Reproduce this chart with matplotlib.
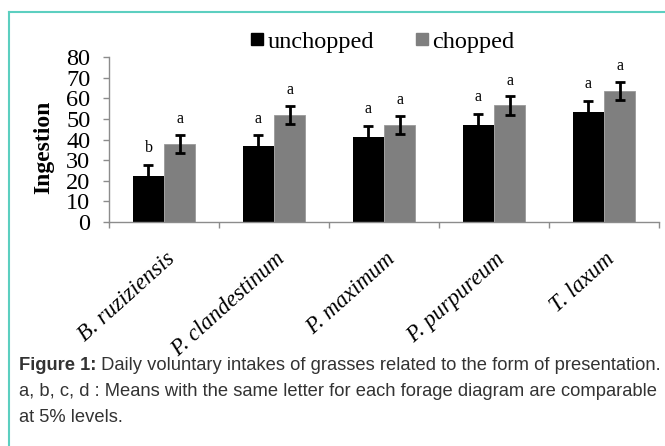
import numpy as np
import matplotlib
matplotlib.use("Agg")
import matplotlib.pyplot as plt
from matplotlib.lines import Line2D
from matplotlib.transforms import ScaledTranslation

# data
species = ["B. ruziziensis", "P. clandestinum", "P. maximum", "P. purpureum", "T. laxum"]
unchopped = [22.4, 36.7, 41.4, 47.1, 53.2]
chopped = [37.8, 51.9, 47.2, 56.5, 63.6]
unchopped_err = [5.3, 5.3, 5.2, 5.3, 5.5]
chopped_err = [4.5, 4.4, 4.4, 4.5, 4.5]
letters_unchopped = ["b", "a", "a", "a", "a"]
letters_chopped = ["a", "a", "a", "a", "a"]
yticks = [0, 10, 20, 30, 40, 50, 60, 70, 80]

caption_bold = "Figure 1:"
caption_lines = [
    " Daily voluntary intakes of grasses related to the form of presentation.",
    "a, b, c, d : Means with the same letter for each forage diagram are comparable",
    "at 5% levels.",
]

serif = ["Liberation Serif", "DejaVu Serif"]
sans = ["Liberation Sans", "DejaVu Sans"]
grey_axis = "#8c8c8c"

fig = plt.figure(figsize=(6.65, 4.46), dpi=100)
ax = fig.add_axes([109 / 665, 1 - 222 / 446, 550 / 665, 165 / 446])

x = np.arange(len(species))
w = 0.282
ax.bar(x - w / 2, unchopped, w, color="black", zorder=2)
ax.bar(x + w / 2, chopped, w, color="#7f7f7f", edgecolor="#9a9a9a", linewidth=0.6, zorder=2)
ax.errorbar(x - w / 2, unchopped, yerr=unchopped_err, fmt="none", ecolor="black",
            elinewidth=2, capsize=3.4, capthick=2, zorder=3)
ax.errorbar(x + w / 2, chopped, yerr=chopped_err, fmt="none", ecolor="black",
            elinewidth=2, capsize=3.4, capthick=2, zorder=3)

for i in range(len(species)):
    ax.text(x[i] - w / 2, unchopped[i] + unchopped_err[i] + 8, letters_unchopped[i],
            ha="center", va="center", fontsize=11.5, family=serif)
    ax.text(x[i] + w / 2, chopped[i] + chopped_err[i] + 7.5, letters_chopped[i],
            ha="center", va="center", fontsize=11.5, family=serif)

ax.set_xlim(-0.5, len(species) - 0.5)
ax.set_ylim(0, 80)
ax.set_yticks(yticks)
ax.set_yticklabels([str(v) for v in yticks], family=serif, fontsize=17.5)
ax.tick_params(axis="y", length=4.5, width=1, color=grey_axis, pad=9)

# category boundaries get tick marks, centres get the labels
ax.set_xticks(np.arange(-0.5, len(species), 1.0))
ax.set_xticklabels([])
ax.tick_params(axis="x", which="major", length=4.5, width=1, color=grey_axis)
ax.set_xticks(x, minor=True)
ax.set_xticklabels(species, minor=True, rotation=42, ha="right",
                   rotation_mode="anchor", fontstyle="italic", family=serif, fontsize=16.5)
ax.tick_params(axis="x", which="minor", length=0, pad=19)
for lab in ax.get_xticklabels(minor=True):
    lab.set_transform(lab.get_transform() + ScaledTranslation(1 / 100, 0, fig.dpi_scale_trans))

for s in ["top", "right"]:
    ax.spines[s].set_visible(False)
for s in ["left", "bottom"]:
    ax.spines[s].set_color(grey_axis)
    ax.spines[s].set_linewidth(1)

ax.set_ylabel("Ingestion", family=serif, fontsize=17, fontweight="bold")
ax.yaxis.set_label_coords(-0.1, 0.455)

handles = [Line2D([], [], marker="s", linestyle="none", color="black", markersize=8.3),
           Line2D([], [], marker="s", linestyle="none", color="#7f7f7f", markersize=8.3)]
fig.legend(handles, ["unchopped", "chopped"], loc="center", bbox_to_anchor=(0.575, 0.906),
           ncol=2, frameon=False, prop={"family": serif, "size": 17.5},
           handlelength=0.55, handletextpad=0.16, columnspacing=1.7)

# turquoise frame of the figure panel
fig.add_artist(Line2D([9 / 665, 9 / 665], [0, 1 - 12 / 446], transform=fig.transFigure,
                      color="#5ccfc0", lw=1.5))
fig.add_artist(Line2D([9 / 665, 1], [1 - 12 / 446, 1 - 12 / 446], transform=fig.transFigure,
                      color="#5ccfc0", lw=1.5))

# caption
cap_color = "#333333"
cap_size = 13.2
y0 = 1 - 366 / 446
step = 26 / 446
t_bold = fig.text(19 / 665, y0, caption_bold, ha="left", va="center", fontsize=cap_size,
                  family=sans, fontweight="bold", color=cap_color)
fig.canvas.draw()
bb = t_bold.get_window_extent()
fig.text(bb.x1 / fig.bbox.width, y0, caption_lines[0], ha="left", va="center",
         fontsize=cap_size, family=sans, color=cap_color)
for k, line in enumerate(caption_lines[1:], start=1):
    fig.text(19 / 665, y0 - k * step, line, ha="left", va="center", fontsize=cap_size,
             family=sans, color=cap_color)

fig.savefig("out.png", dpi=100)
